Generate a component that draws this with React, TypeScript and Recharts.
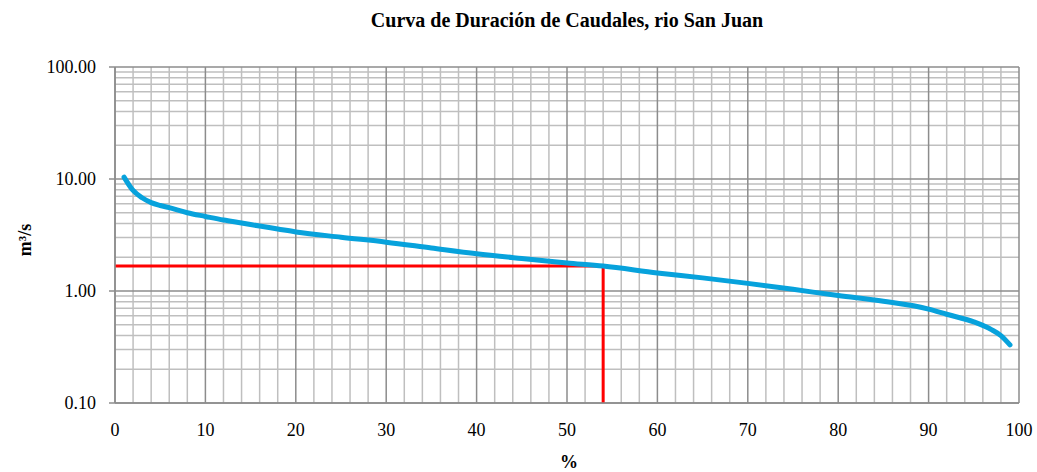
import React from 'react';
import { LineChart, Line, XAxis, YAxis, ReferenceLine } from 'recharts';

// Curva de duración: % de tiempo excedido vs caudal (m³/s)
const percentages = [1, 2, 3, 4, 5, 6, 8, 10, 12, 14, 16, 18, 20, 25, 30, 35, 40, 45, 50, 54, 60, 65, 70, 75, 80, 85, 90, 92, 95, 97, 98, 99];
const flows = [10.4, 7.9, 6.8, 6.15, 5.8, 5.55, 5.0, 4.63, 4.3, 4.05, 3.8, 3.58, 3.37, 3.02, 2.73, 2.42, 2.15, 1.95, 1.78, 1.67, 1.45, 1.31, 1.17, 1.035, 0.91, 0.81, 0.69, 0.62, 0.53, 0.45, 0.4, 0.33];

// caudal de referencia (línea roja)
const refPercent = 54;
const refFlow = 1.67;

const xTicks = [0, 10, 20, 30, 40, 50, 60, 70, 80, 90, 100];
const xMinor = [2, 4, 6, 8, 12, 14, 16, 18, 22, 24, 26, 28, 32, 34, 36, 38, 42, 44, 46, 48, 52, 54, 56, 58, 62, 64, 66, 68, 72, 74, 76, 78, 82, 84, 86, 88, 92, 94, 96, 98];
const yTicks = [0.1, 1, 10, 100];
const yMinor = [0.2, 0.3, 0.4, 0.5, 0.6, 0.7, 0.8, 0.9, 2, 3, 4, 5, 6, 7, 8, 9, 20, 30, 40, 50, 60, 70, 80, 90];

const curve = percentages.map((p, i) => ({ p, q: flows[i] }));
const redLine = [
  { p: 0, q: refFlow },
  { p: refPercent, q: refFlow },
  { p: refPercent, q: 0.1 },
];

const font = '"Liberation Serif", "Times New Roman", serif';
const textStyle = { fontFamily: font, fontSize: '18px', fill: '#000' };

const XTick = (props: any) => (
  <text x={props.x} y={props.y} dy="0.71em" textAnchor="middle" style={textStyle}>
    {props.payload.value}
  </text>
);

const YTick = (props: any) => (
  <text x={props.x} y={props.y} dy="0.35em" textAnchor="end" style={textStyle}>
    {Number(props.payload.value).toFixed(2)}
  </text>
);

export default function App() {
  return (
    <div style={{ position: 'absolute', left: 0, top: 0, width: 1037, height: 472, background: '#fff', fontFamily: font }}>
      <div style={{ position: 'absolute', left: 115, width: 904, top: 8, textAlign: 'center', fontWeight: 'bold', fontSize: 20, lineHeight: '24px' }}>
        Curva de Duración de Caudales, rio San Juan
      </div>
      <div style={{ position: 'absolute', left: 25, top: 240, transform: 'translate(-50%, -50%) rotate(-90deg)', fontWeight: 'bold', fontSize: 18, whiteSpace: 'nowrap' }}>
        m³/s
      </div>
      <div style={{ position: 'absolute', left: 569, top: 462, transform: 'translate(-50%, -50%)', fontWeight: 'bold', fontSize: 18 }}>
        %
      </div>
      <LineChart width={1037} height={472} margin={{ top: 67, right: 18, bottom: 0, left: 0 }} style={{ fontFamily: font }}>
        <XAxis
          dataKey="p"
          type="number"
          domain={[0, 100]}
          ticks={xTicks}
          interval={0}
          allowDataOverflow
          tick={XTick}
          tickLine={false}
          tickSize={0}
          tickMargin={20}
          axisLine={{ stroke: '#8c8c8c', strokeWidth: 1.5 }}
          height={69}
        />
        <YAxis
          dataKey="q"
          type="number"
          scale="log"
          domain={[0.1, 100]}
          ticks={yTicks}
          interval={0}
          allowDataOverflow
          tick={YTick}
          tickLine={{ stroke: '#8c8c8c', strokeWidth: 1.5 }}
          tickSize={6}
          tickMargin={13}
          axisLine={{ stroke: '#8c8c8c', strokeWidth: 1.5 }}
          width={115}
        />
        {xMinor.map((v) => (
          <ReferenceLine key={`xm${v}`} x={v} stroke="#bfbfbf" strokeWidth={1.5} />
        ))}
        {yMinor.map((v) => (
          <ReferenceLine key={`ym${v}`} y={v} stroke="#bfbfbf" strokeWidth={1.5} />
        ))}
        {xTicks.map((v) => (
          <ReferenceLine key={`xM${v}`} x={v} stroke="#8c8c8c" strokeWidth={1.5} />
        ))}
        {yTicks.map((v) => (
          <ReferenceLine key={`yM${v}`} y={v} stroke="#8c8c8c" strokeWidth={1.5} />
        ))}
        <Line
          data={redLine}
          dataKey="q"
          type="linear"
          stroke="#ff0000"
          strokeWidth={3}
          dot={false}
          isAnimationActive={false}
        />
        <Line
          data={curve}
          dataKey="q"
          type="monotone"
          stroke="#07a2dc"
          strokeWidth={5}
          strokeLinecap="round"
          dot={false}
          isAnimationActive={false}
        />
      </LineChart>
    </div>
  );
}
